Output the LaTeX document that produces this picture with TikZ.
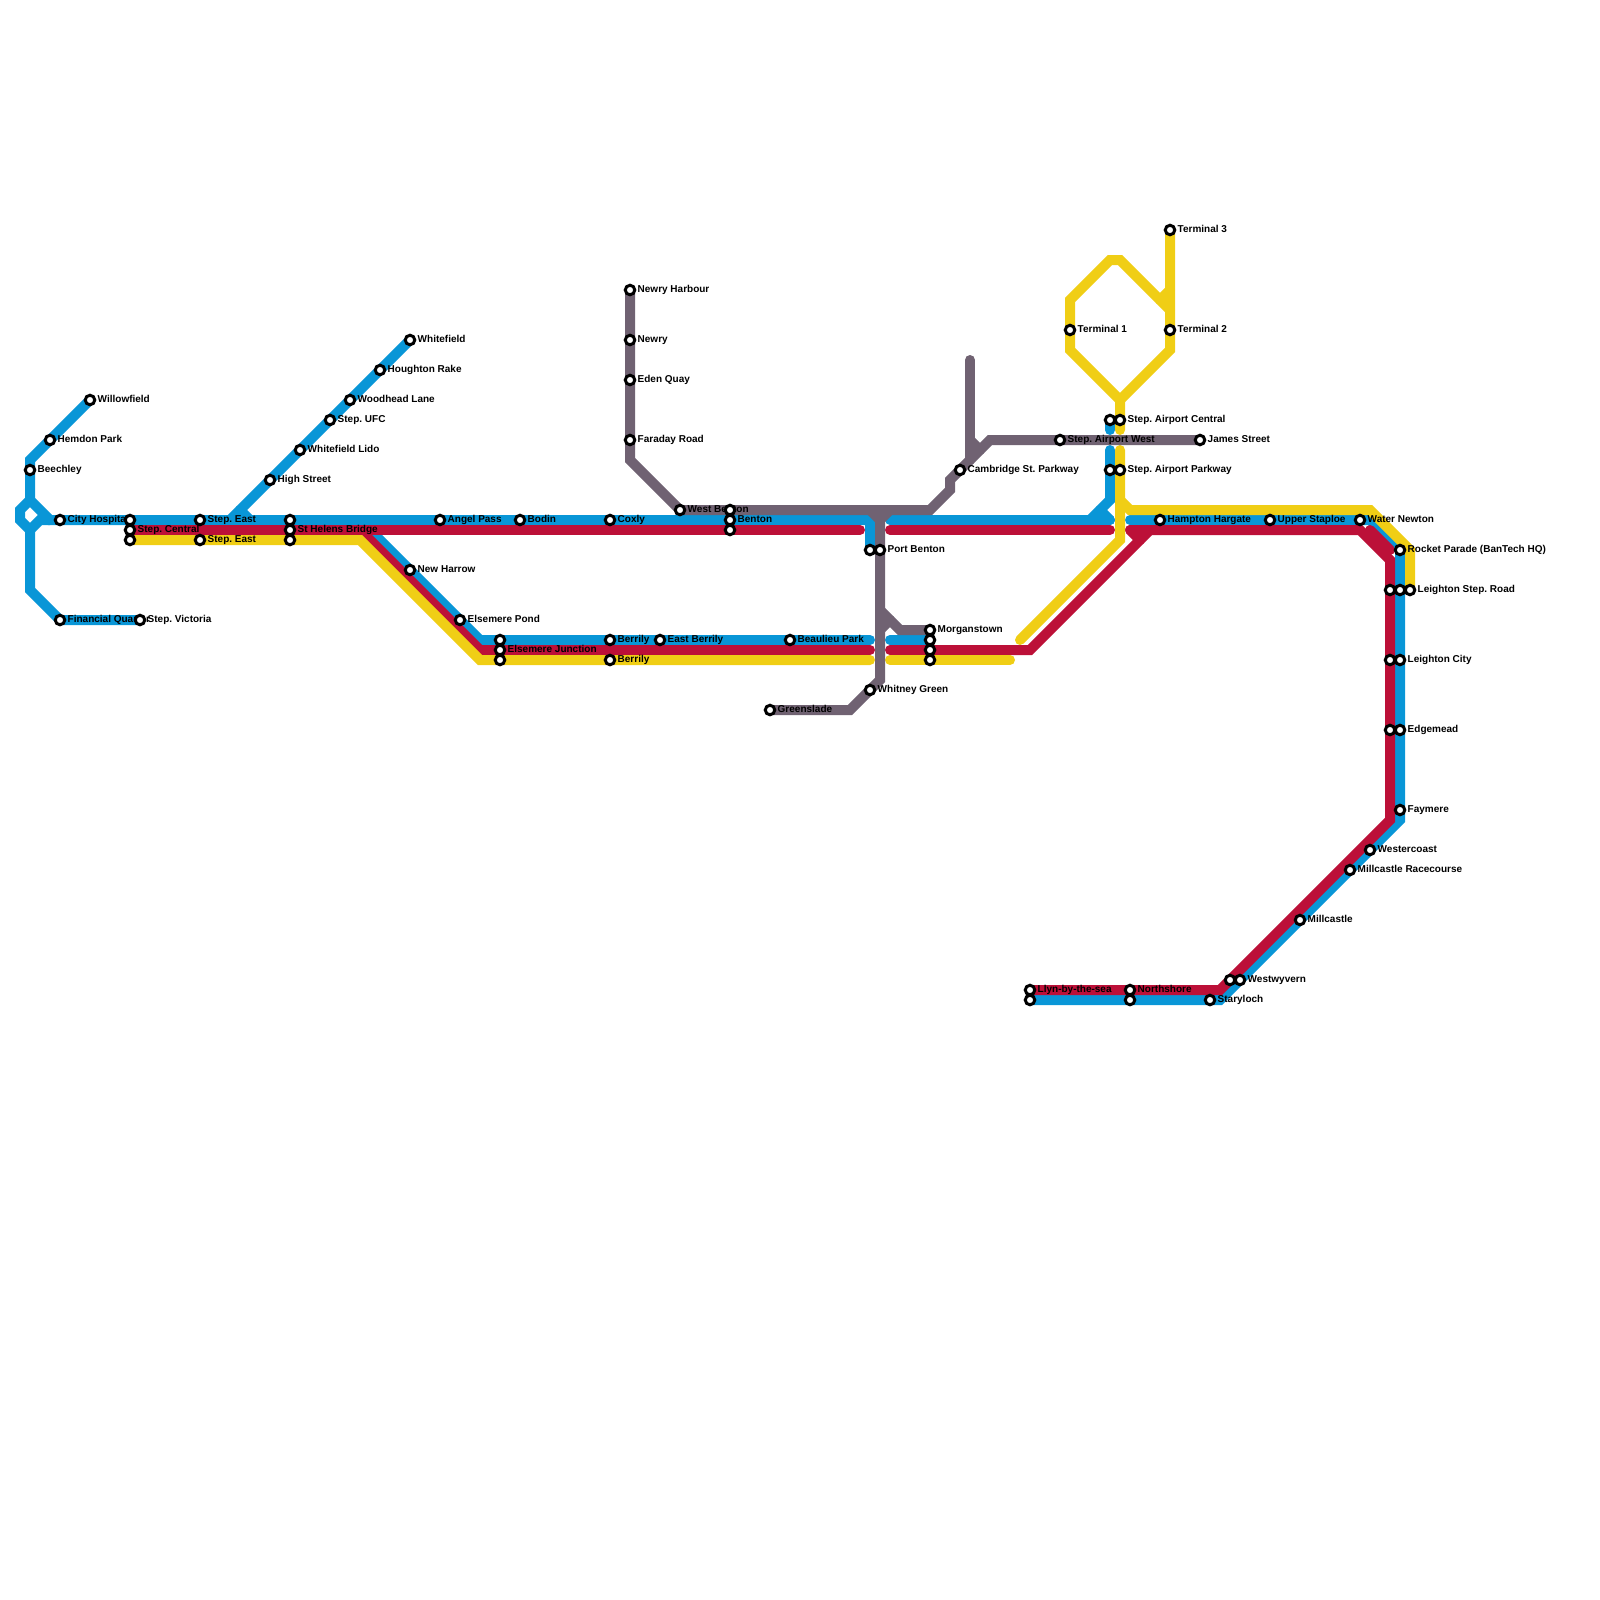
\documentclass[tikz,border=0pt]{standalone}
\usepackage{fontspec}
\usepackage{xcolor}
\setmainfont{Liberation Sans}
\usepackage{tikz}
\definecolor{lineblue}{RGB}{9,150,215}
\definecolor{linered}{RGB}{188,16,56}
\definecolor{lineyellow}{RGB}{240,206,21}
\definecolor{linegray}{RGB}{112,98,114}
\tikzset{
  metro/.style={line width=10pt, line cap=round, line join=miter},
  stop/.style={circle, draw=black, fill=white, line width=3pt, minimum size=9.5pt, inner sep=0pt, outer sep=0pt},
  stoplabel/.style={anchor=base west, inner sep=0pt, text=black, font=\frenchspacing\bfseries\fontsize{10}{12}\selectfont}
}

\begin{document}
\begin{tikzpicture}[x=1pt, y=-1pt]
  \useasboundingbox (0,0) rectangle (1600,1600);
  \foreach \nm/\x/\y in {willowfield/90/400, hemdon/50/440, beechley/30/470, cityhosp/60/520, financial/60/620, stepvic/140/620,
      stepcentA/130/520, stepcentB/130/530, stepcentC/130/540, stepeastA/200/520, stepeastB/200/540,
      helensA/290/520, helensB/290/530, helensC/290/540, highst/270/480, lido/300/450, stepufc/330/420, woodhead/350/400,
      houghton/380/370, whitefield/410/340, angel/440/520, bodin/520/520, coxly/610/520, westben/680/510,
      bentonA/730/510, bentonB/730/520, bentonC/730/530, harrow/410/570, elspond/460/620,
      elsjA/500/640, elsjB/500/650, elsjC/500/660, berrilyA/610/640, berrilyB/610/660, eastber/660/640, beaulieu/790/640,
      portA/870/550, portB/880/550, whitney/870/690, greenslade/770/710,
      morganA/930/630, morganB/930/640, morganC/930/650, morganD/930/660,
      harbour/630/290, newry/630/340, eden/630/380, faraday/630/440, cambridge/960/470, airwest/1060/440, james/1200/440,
      aircentA/1110/420, aircentB/1120/420, airparkA/1110/470, airparkB/1120/470,
      termA/1070/330, termB/1170/330, termC/1170/230, hampton/1160/520, staploe/1270/520, newton/1360/520, rocket/1400/550,
      leistepA/1390/590, leistepB/1400/590, leistepC/1410/590, leicityA/1390/660, leicityB/1400/660,
      edgeA/1390/730, edgeB/1400/730, faymere/1400/810, westcoast/1370/850, racecourse/1350/870, millcastle/1300/920,
      wyvernA/1230/980, wyvernB/1240/980, staryloch/1210/1000, llynA/1030/990, llynB/1030/1000, northA/1130/990, northB/1130/1000}
    \coordinate (\nm) at (\x,\y);

  % blue line
  \draw[metro, lineblue] (willowfield) -- (30,460) -- (30,500) -- (50,520) -- (870,520) -- (portA);
  \draw[metro, lineblue] (30,500) -- (20,510) -- (20,520) -- (30,530) -- (30,590) -- (financial) -- (stepvic);
  \draw[metro, lineblue] (50,520) -- (40,520) -- (30,530);
  \draw[metro, lineblue] (whitefield) -- (240,510) -- (230,520);
  \draw[metro, lineblue] (240,510) -- (250,520);
  \draw[metro, lineblue] (370,530) -- (480,640) -- (870,640);
  \draw[metro, lineblue] (890,640) -- (morganB);
  \draw[metro, lineblue] (890,520) -- (1110,520);
  \draw[metro, lineblue] (1090,520) -- (1110,500) -- (1110,450);
  \draw[metro, lineblue] (1100,510) -- (1110,520);
  \draw[metro, lineblue] (aircentA) -- (1110,430);
  \draw[metro, lineblue] (1130,520) -- (1370,520) -- (1400,550) -- (1400,820) -- (1220,1000) -- (llynB);

  % red line
  \draw[metro, linered] (stepcentB) -- (860,530);
  \draw[metro, linered] (360,530) -- (480,650) -- (870,650);
  \draw[metro, linered] (890,650) -- (1030,650) -- (1150,530);
  \draw[metro, linered] (890,530) -- (1110,530);
  \draw[metro, linered] (1130,530) -- (1140,540);
  \draw[metro, linered] (1130,530) -- (1360,530) -- (1390,560) -- (1390,820) -- (1220,990) -- (llynA);
  \draw[metro, linered] (1370,530) -- (1390,550);

  % yellow line
  \draw[metro, lineyellow] (stepcentC) -- (360,540) -- (480,660) -- (870,660);
  \draw[metro, lineyellow] (890,660) -- (1010,660);
  \draw[metro, lineyellow] (1020,640) -- (1120,540) -- (1120,450);
  \draw[metro, lineyellow] (1120,500) -- (1130,510) -- (1370,510) -- (1410,550) -- (leistepC);
  \draw[metro, lineyellow] (1120,430) -- (1120,400) -- (1070,350) -- (1070,300) -- (1110,260) -- (1120,260) -- (1170,310);
  \draw[metro, lineyellow] (1120,400) -- (1170,350) -- (termC);
  \draw[metro, lineyellow] (1170,290) -- (1160,300);

  % gray line
  \draw[metro, linegray] (james) -- (990,440) -- (950,480) -- (950,490) -- (930,510) -- (westben) -- (630,460) -- (harbour);
  \draw[metro, linegray] (970,360) -- (970,460);
  \draw[metro, linegray] (970,440) -- (980,450);
  \draw[metro, linegray] (870,510) -- (880,520) -- (880,680) -- (850,710) -- (greenslade);
  \draw[metro, linegray] (890,510) -- (880,520);
  \draw[metro, linegray] (880,610) -- (900,630) -- (morganA);
  \draw[metro, linegray] (890,620) -- (880,630);

  \foreach \nm/\lbl in {willowfield/Willowfield, hemdon/Hemdon Park, beechley/Beechley, cityhosp/City Hospital, financial/Financial Quarter, stepvic/Step. Victoria,
      stepcentB/Step. Central, stepeastA/Step. East, stepeastB/Step. East, helensB/St Helens Bridge, highst/High Street, lido/Whitefield Lido,
      stepufc/Step. UFC, woodhead/Woodhead Lane, houghton/Houghton Rake, whitefield/Whitefield, angel/Angel Pass, bodin/Bodin, coxly/Coxly,
      westben/West Benton, bentonB/Benton, harrow/New Harrow, elspond/Elsemere Pond, elsjB/Elsemere Junction, berrilyA/Berrily, berrilyB/Berrily,
      eastber/East Berrily, beaulieu/Beaulieu Park, portB/Port Benton, whitney/Whitney Green, greenslade/Greenslade, morganA/Morganstown,
      harbour/Newry Harbour, newry/Newry, eden/Eden Quay, faraday/Faraday Road, cambridge/Cambridge St. Parkway, airwest/Step. Airport West, james/James Street,
      aircentB/Step. Airport Central, airparkB/Step. Airport Parkway, termA/Terminal 1, termB/Terminal 2, termC/Terminal 3, hampton/Hampton Hargate,
      staploe/Upper Staploe, newton/Water Newton, rocket/Rocket Parade (BanTech HQ), leistepC/Leighton Step. Road, leicityB/Leighton City, edgeB/Edgemead,
      faymere/Faymere, westcoast/Westercoast, racecourse/Millcastle Racecourse, millcastle/Millcastle, wyvernB/Westwyvern, staryloch/Staryloch,
      llynA/Llyn-by-the-sea, northA/Northshore}
    \node[stoplabel] (lbl-\nm) at ([xshift=7.5pt, yshift=-2.5pt]\nm) {\lbl};

  \foreach \nm in {willowfield, hemdon, beechley, cityhosp, financial, stepvic, stepcentA, stepcentB, stepcentC, stepeastA, stepeastB,
      helensA, helensB, helensC, highst, lido, stepufc, woodhead, houghton, whitefield, angel, bodin, coxly, westben, bentonA, bentonB, bentonC,
      harrow, elspond, elsjA, elsjB, elsjC, berrilyA, berrilyB, eastber, beaulieu, portA, portB, whitney, greenslade,
      morganA, morganB, morganC, morganD, harbour, newry, eden, faraday, cambridge, airwest, james, aircentA, aircentB, airparkA, airparkB,
      termA, termB, termC, hampton, staploe, newton, rocket, leistepA, leistepB, leistepC, leicityA, leicityB, edgeA, edgeB, faymere,
      westcoast, racecourse, millcastle, wyvernA, wyvernB, staryloch, llynA, llynB, northA, northB}
    \node[stop] (stop-\nm) at (\nm) {};
\end{tikzpicture}
\end{document}
